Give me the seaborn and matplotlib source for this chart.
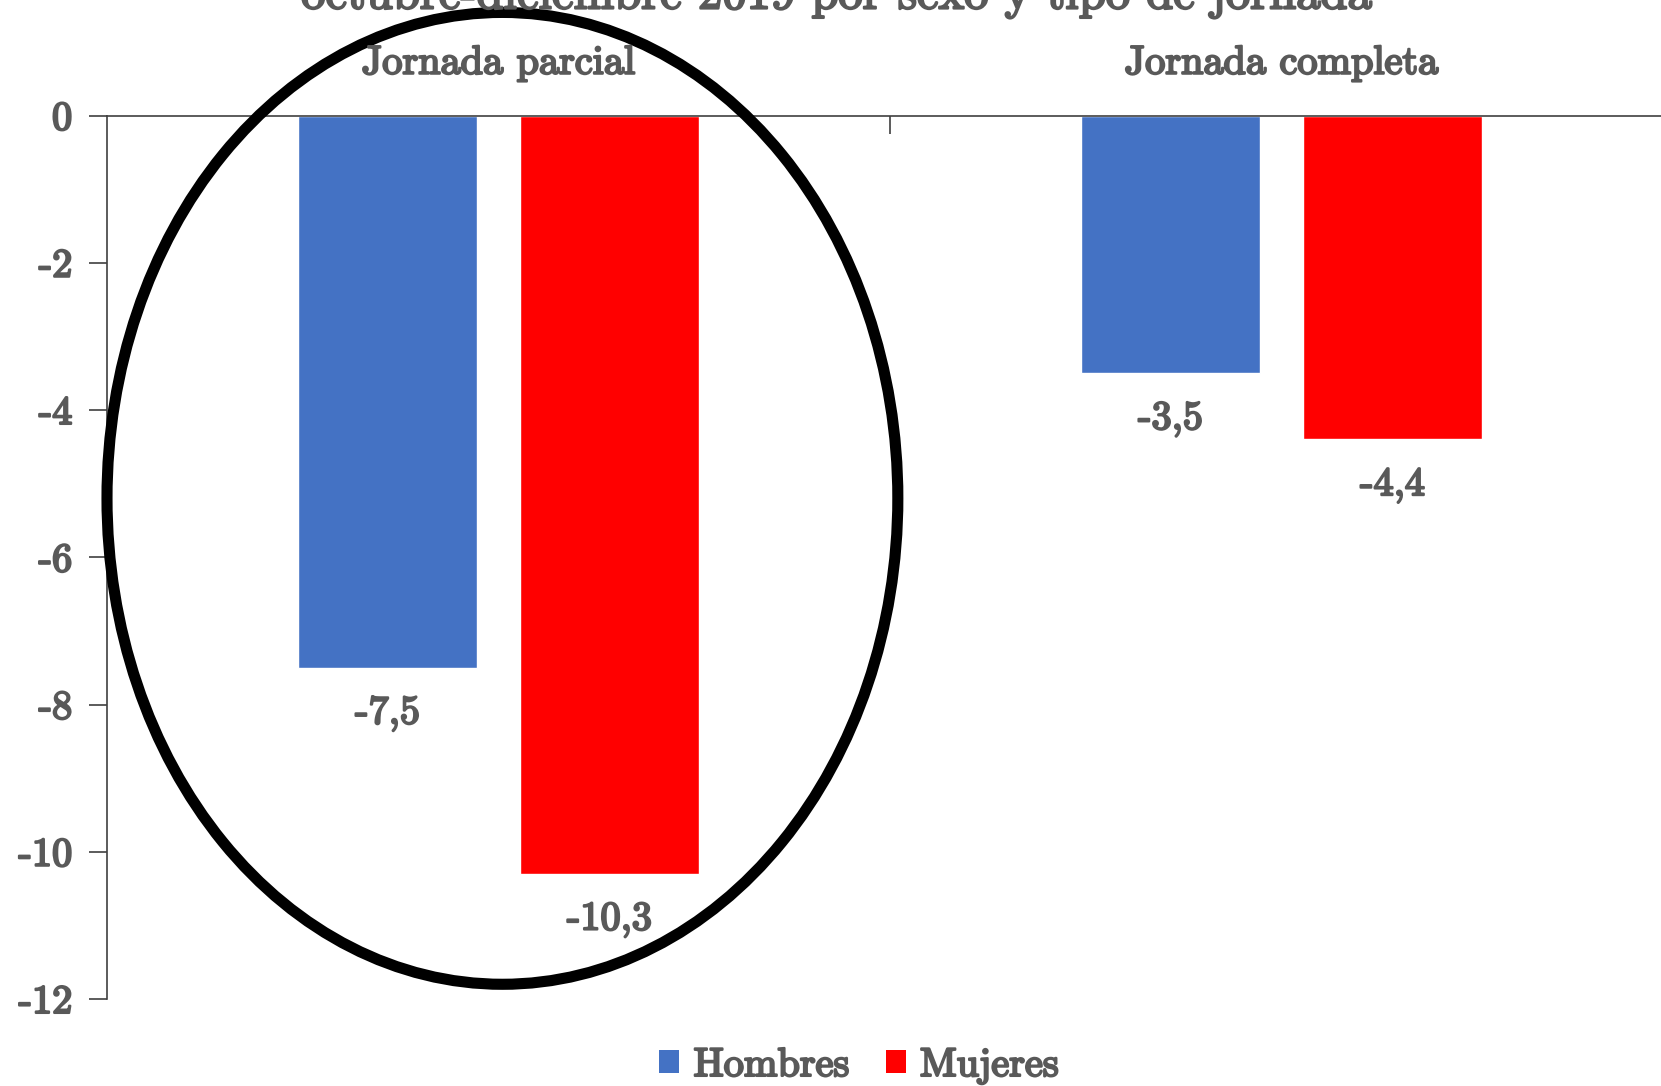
import matplotlib
matplotlib.use("Agg")
import matplotlib.pyplot as plt
import matplotlib.patheffects as pe
from matplotlib.patches import Ellipse, Patch
import pandas as pd
import seaborn as sns

# data
tipos = ["Jornada parcial", "Jornada completa"]
sexos = ["Hombres", "Mujeres"]
hombres = [-7.5, -3.5]
mujeres = [-10.3, -4.4]
yticks = [0, -2, -4, -6, -8, -10, -12]
titulo = "octubre-diciembre 2019 por sexo y tipo de jornada"

colores = {"Hombres": "#4472C4", "Mujeres": "#FF0000"}
gris = "#595959"

df = pd.DataFrame({
    "tipo": tipos * 2,
    "sexo": ["Hombres"] * 2 + ["Mujeres"] * 2,
    "valor": hombres + mujeres,
})

sns.set_theme(style="white")
plt.rcParams["font.family"] = ["cmr10", "DejaVu Serif"]
plt.rcParams["axes.unicode_minus"] = False
plt.rcParams["mathtext.fontset"] = "cm"

grueso = [pe.withStroke(linewidth=1.6, foreground=gris)]

fig = plt.figure(figsize=(16.61, 10.86), dpi=100)
ax = fig.add_axes([107 / 1661, 1 - 999 / 1086, 1566 / 1661, (999 - 115.5) / 1086])

sns.barplot(data=df, x="tipo", y="valor", hue="sexo", order=tipos, hue_order=sexos,
            palette=colores, width=0.567, gap=0.19, saturation=1, legend=False, ax=ax)

for cont in ax.containers:
    etiquetas = [f"{b.get_height():.1f}".replace(".", ",") for b in cont]
    txts = ax.bar_label(cont, labels=etiquetas, padding=20, fontsize=29, color=gris)
    for t in txts:
        t.set_path_effects(grueso)

ax.set_xlim(-0.5, 1.5)
ax.set_ylim(-12, 0)
ax.set_xlabel("")
ax.set_ylabel("")

# axes
for s in ["bottom", "right"]:
    ax.spines[s].set_visible(False)
for s in ["top", "left"]:
    ax.spines[s].set_color("#404040")
    ax.spines[s].set_linewidth(1.2)
ax.xaxis.tick_top()
ax.set_xticks([0.5])
ax.set_xticklabels([""])
ax.tick_params(axis="x", direction="in", length=13, width=1.2, color="#404040")
ax.set_yticks(yticks)
ax.set_yticklabels([str(v) for v in yticks])
ax.tick_params(axis="y", direction="out", length=13, width=1.2, color="#404040",
               labelsize=29, labelcolor=gris, pad=12, left=True)
for t in ax.get_yticklabels():
    t.set_path_effects(grueso)

# category headers
for i, nombre in enumerate(tipos):
    x_fig = (107 + (i + 0.5) * 783) / 1661
    t = fig.text(x_fig, 1 - 63.5 / 1086, nombre, ha="center", va="center",
                 fontsize=29, color=gris)
    t.set_path_effects(grueso)

# title (cut off at the top, as in the source)
t = fig.text(837 / 1661, 1 - 8.5 / 1086, titulo, ha="center", va="baseline",
             fontsize=35, color=gris)
t.set_path_effects(grueso)

# ellipse highlight
elip = Ellipse((0.005, -5.2), 1.01, 13.2, fill=False, edgecolor="black",
               linewidth=8, clip_on=False, zorder=5)
ax.add_patch(elip)

# legend
handles = [Patch(facecolor=colores[s], edgecolor="none", label=s) for s in sexos]
leg = fig.legend(handles=handles, loc="center", bbox_to_anchor=(859 / 1661, 1 - 1066 / 1086),
                 ncol=2, frameon=False, fontsize=29, handlelength=0.5, handleheight=0.5,
                 handletextpad=0.35, columnspacing=0.9, labelcolor=gris)
for t in leg.get_texts():
    t.set_path_effects(grueso)

fig.savefig("out.png", dpi=100)
